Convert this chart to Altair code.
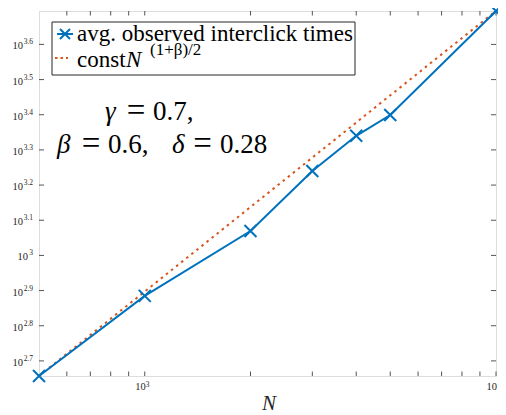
import altair as alt
import pandas as pd

# ---- data ----
N = [500, 1000, 2000, 3000, 4000, 5000, 10000]
T = [454, 767, 1173, 1738, 2188, 2508, 4955]
FIT_N = [500, 10000]
FIT_T = [454, 4960]
X_TICKS = [600, 700, 800, 900, 1000, 2000, 3000, 4000, 5000, 6000, 7000, 8000, 9000]
X_LABEL_VALUES = [1000, 10000]
X_LABEL_EXP = ["3", ""]   # the exponent of 10^4 is cut off at the figure edge
Y_EXP = ["2.7", "2.8", "2.9", "3", "3.1", "3.2", "3.3", "3.4", "3.5", "3.6"]

BLUE = "#0072BD"
RED = "#D95319"
FONT = "Liberation Serif"
W, H = 457, 365

obs = pd.DataFrame({"n": N, "t": T})
fit = pd.DataFrame({"n": FIT_N, "t": FIT_T})
one = pd.DataFrame({"k": [0]})
xt = pd.DataFrame({"v": X_TICKS + [10000]})
xl = pd.DataFrame({"v": X_LABEL_VALUES, "e": X_LABEL_EXP})
yt = pd.DataFrame({"e": Y_EXP, "v": [10 ** float(e) for e in Y_EXP]})

xs = alt.Scale(type="log", domain=[500, 10000], nice=False)
ys = alt.Scale(type="log", domain=[454, 4955], nice=False)
X = lambda f: alt.X(f, scale=xs, axis=None)
Y = lambda f: alt.Y(f, scale=ys, axis=None)

tick_col = "#555555"
ticks_b = alt.Chart(xt).mark_rule(color=tick_col, strokeWidth=1).encode(
    x=X("v:Q"), y=alt.value(H), y2=alt.value(H - 4.5))
ticks_t = alt.Chart(xt).mark_rule(color=tick_col, strokeWidth=1).encode(
    x=X("v:Q"), y=alt.value(0), y2=alt.value(4.5))
ticks_l = alt.Chart(yt).mark_rule(color=tick_col, strokeWidth=1).encode(
    y=Y("v:Q"), x=alt.value(0), x2=alt.value(5))
ticks_r = alt.Chart(yt).mark_rule(color=tick_col, strokeWidth=1).encode(
    y=Y("v:Q"), x=alt.value(W - 5), x2=alt.value(W))

LAB = "#262626"
ylab_base_long = alt.Chart(yt).transform_filter("length(datum.e) > 1").mark_text(
    text="10", align="right", baseline="alphabetic", font=FONT, fontSize=10.5, dy=5,
    color=LAB).encode(y=Y("v:Q"), x=alt.value(-16))
ylab_base_short = alt.Chart(yt).transform_filter("length(datum.e) == 1").mark_text(
    text="10", align="right", baseline="alphabetic", font=FONT, fontSize=10.5, dy=5,
    color=LAB).encode(y=Y("v:Q"), x=alt.value(-11))
ylab_exp = alt.Chart(yt).mark_text(
    align="right", baseline="alphabetic", font=FONT, fontSize=7.5, dy=0,
    color=LAB).encode(y=Y("v:Q"), x=alt.value(-6), text="e:N")

xlab_base = alt.Chart(xl).mark_text(
    text="10", align="right", baseline="alphabetic", font=FONT, fontSize=10.5, dx=1,
    color=LAB).encode(x=X("v:Q"), y=alt.value(379))
xlab_exp = alt.Chart(xl).transform_filter("length(datum.e) > 0").mark_text(
    align="left", baseline="alphabetic", font=FONT, fontSize=7.5, dx=1,
    color=LAB).encode(x=X("v:Q"), y=alt.value(375.5), text="e:N")
xtitle = alt.Chart(one).mark_text(
    text="N", align="center", baseline="alphabetic", font=FONT, fontSize=21,
    fontStyle="italic", color=LAB).encode(x=alt.value(230), y=alt.value(399))

line = alt.Chart(obs).mark_line(color=BLUE, strokeWidth=2).encode(x=X("n:Q"), y=Y("t:Q"))
pts = alt.Chart(obs).mark_point(
    shape="M-1,-1L1,1M-1,1L1,-1", filled=False, size=144, strokeWidth=2,
    color=BLUE, opacity=1).encode(x=X("n:Q"), y=Y("t:Q"))
fitline = alt.Chart(fit).mark_line(
    color=RED, strokeWidth=2, strokeDash=[2.5, 4]).encode(x=X("n:Q"), y=Y("t:Q"))

leg_box = alt.Chart(one).mark_rect(fill="white", stroke="#262626", strokeWidth=1).encode(
    x=alt.value(13), x2=alt.value(316), y=alt.value(11), y2=alt.value(64))
leg_line = alt.Chart(one).mark_rule(color=BLUE, strokeWidth=2).encode(
    x=alt.value(18), x2=alt.value(34), y=alt.value(23))
leg_pt = alt.Chart(one).mark_point(
    shape="M-1,-1L1,1M-1,1L1,-1", filled=False, size=100, strokeWidth=2,
    color=BLUE, opacity=1).encode(x=alt.value(26), y=alt.value(23))
leg_dot = alt.Chart(one).mark_rule(color=RED, strokeWidth=2, strokeDash=[2.5, 3]).encode(
    x=alt.value(16), x2=alt.value(29), y=alt.value(47))


def txt(s, x, y, size, style="normal", align="left", font=FONT):
    return alt.Chart(one).mark_text(
        text=s, align=align, baseline="alphabetic", font=font, fontSize=size,
        fontStyle=style, color="black").encode(x=alt.value(x), y=alt.value(y))


leg_t1 = txt("avg. observed interclick times", 38, 30, 23)
leg_t2a = txt("const", 38, 56, 23)
leg_t2b = txt("N", 87, 56, 23, "italic")
leg_t2c = txt("(1+\u03b2)/2", 111, 44, 17)

EQ = 33
ann = [
    txt("\u03b3", 66, 109, 27, "italic"),
    txt("=", 97, 110, EQ, align="center"),
    txt("0.7,", 114, 109, 27),
    txt("\u03b2", 18, 142, 27, "italic"),
    txt("=", 52, 143, EQ, align="center"),
    txt("0.6,", 69, 142, 27),
    txt("\u03b4", 133, 142, 27, "italic"),
    txt("=", 163.5, 143, EQ, align="center"),
    txt("0.28", 181, 142, 27),
]

chart = alt.layer(
    ticks_b, ticks_t, ticks_l, ticks_r,
    fitline, line, pts,
    leg_box, leg_line, leg_pt, leg_dot, leg_t1, leg_t2a, leg_t2b, leg_t2c,
    *ann,
    ylab_base_long, ylab_base_short, ylab_exp, xlab_base, xlab_exp, xtitle,
).properties(
    width=W, height=H,
    autosize=alt.AutoSizeParams(type="none"),
    padding={"left": 31, "top": 3, "right": 2, "bottom": 38},
).configure_view(stroke="#262626", strokeWidth=1).configure(background="white")

chart.save("out.html", embed_options={"renderer": "svg", "actions": False})
